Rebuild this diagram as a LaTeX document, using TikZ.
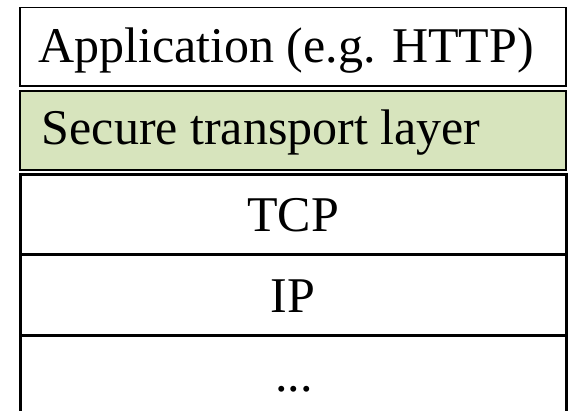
\documentclass[tikz,border=0pt]{standalone}
\usepackage{fontspec}
\setmainfont{Liberation Serif}
\definecolor{securegreen}{HTML}{D7E4BD}
\begin{document}
\begin{tikzpicture}[x=1pt,y=1pt,
  layerbox/.style={draw=black, rectangle, inner sep=0pt, minimum width=546pt},
  layertext/.style={inner sep=0pt, font=\fontsize{50}{60}\selectfont, text=black}]
\useasboundingbox (0,0) rectangle (568,411);
\clip (0,0) rectangle (568,411);
% protocol stack, top to bottom
\node[layerbox, line width=1.2pt, minimum height=78.5pt] (app) at (293,364.25) {};
\node[layerbox, line width=2pt, fill=securegreen, minimum height=79pt] (sec) at (293,280.5) {};
\node[layerbox, line width=3pt, minimum height=80.5pt] (tcp) at (293,196.25) {};
\node[layerbox, line width=3pt, minimum height=81pt] (ip) at (293,115.5) {};
\node[layerbox, line width=3pt, minimum height=81pt] (more) at (293,34.5) {};
% layer names
\node[layertext, anchor=base west] (apptxt) at (38,348.3) {Application (e.g. HTTP)};
\node[layertext, anchor=base west] (sectxt) at (41.7,266) {Secure transport layer};
\node[layertext, anchor=base] (tcptxt) at (293,179) {TCP};
\node[layertext, anchor=base] (iptxt) at (293,98.5) {IP};
\node[layertext, anchor=base] (moretxt) at (294,19) {...};
\end{tikzpicture}
\end{document}
